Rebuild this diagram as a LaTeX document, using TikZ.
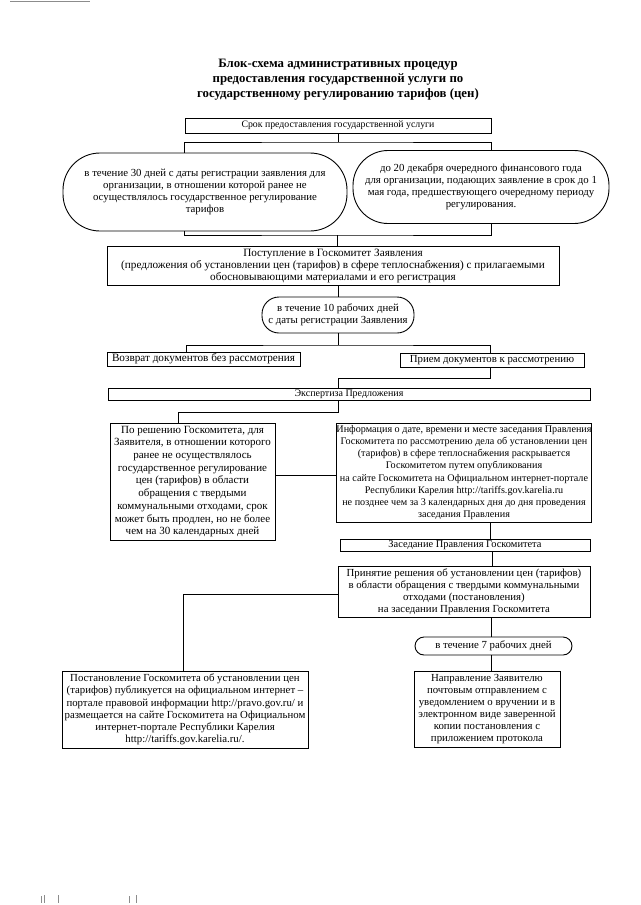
\documentclass[tikz,border=0pt]{standalone}
\usepackage{fontspec}
\setmainfont{Liberation Serif}
\usetikzlibrary{calc}
\tikzset{
  base/.style={draw=black, line width=0.9pt, align=center, inner sep=0pt,
    font=\fontsize{10.8}{12}\selectfont},
  box/.style={base, rectangle},
  oval/.style={base, rectangle},
  oneline/.style={text height=0.68em, text depth=0.2em},
  conn/.style={draw=black, line width=0.9pt},
  scanmark/.style={draw=black!45, line width=0.8pt},
}
\begin{document}
\begin{tikzpicture}[x=1pt,y=-1pt]
\useasboundingbox[fill=white] (0,0) rectangle (640,905);

% scan marks
\draw[scanmark] (10,1.5) -- (90,1.5);
\draw[scanmark] (41,896) -- (41,903) (44,895) -- (44,903) (58,895) -- (58,903)
  (129,896) -- (129,903) (136,895) -- (136,903);

\node[font=\bfseries\fontsize{12.8}{15}\selectfont, align=center] (title) at (338,79.5)
 {Блок-схема административных процедур\\
  предоставления государственной услуги по\\
  государственному регулированию тарифов (цен)};

\node[box, oneline, minimum width=306pt, minimum height=15pt,
  font=\fontsize{9.8}{11}\selectfont] (srok) at (338,125.5)
 {Срок предоставления государственной услуги};

\node[oval, rounded corners=37pt, minimum width=284pt, minimum height=78pt] (ovalL) at (205,192)
 {в течение 30 дней с даты регистрации заявления для\\
  организации, в отношении которой ранее не\\
  осуществлялось государственное регулирование\\
  тарифов};

\node[oval, rounded corners=35pt, minimum width=256pt, minimum height=73pt] (ovalR) at (481,187)
 {до 20 декабря очередного финансового года\\
  для организации, подающих заявление в срок до 1\\
  мая года, предшествующего очередному периоду\\
  регулирования.};

\node[box, minimum width=452pt, minimum height=39pt,
  font=\fontsize{11.2}{12}\selectfont] (post) at (333,265.5)
 {Поступление в Госкомитет Заявления\\
  (предложения об установлении цен (тарифов) в сфере теплоснабжения) с прилагаемыми\\
  обосновывающими материалами и его регистрация};

\node[oval, rounded corners=17pt, minimum width=152pt, minimum height=36pt] (oval10) at (338,315)
 {в течение 10 рабочих дней\\
  с даты регистрации Заявления};

\node[box, oneline, minimum width=193pt, minimum height=14pt,
  font=\fontsize{11.2}{12}\selectfont] (vozvrat) at (203.5,359)
 {Возврат документов без рассмотрения};

\node[box, oneline, minimum width=184pt, minimum height=14pt] (priem) at (492,360)
 {Прием документов к рассмотрению};

\node[box, oneline, minimum width=482pt, minimum height=12pt,
  font=\fontsize{10}{11}\selectfont] (ekspert) at (349,394)
 {Экспертиза Предложения};

\node[box, minimum width=165pt, minimum height=117pt,
  font=\fontsize{11}{12.7}\selectfont] (reshenie) at (192.5,481.5)
 {По решению Госкомитета, для\\
  Заявителя, в отношении которого\\
  ранее не осуществлялось\\
  государственное регулирование\\
  цен (тарифов) в области\\
  обращения с твердыми\\
  коммунальными отходами, срок\\
  может быть продлен, но не более\\
  чем на 30 календарных дней};

\node[box, minimum width=253pt, minimum height=99pt,
  font=\fontsize{10.15}{12.2}\selectfont] (info) at (464,472.5)
 {Информация о дате, времени и месте заседания Правления\\
  Госкомитета по рассмотрению дела об установлении цен\\
  (тарифов) в сфере теплоснабжения раскрывается\\
  Госкомитетом путем опубликования\\
  на сайте Госкомитета на Официальном интернет-портале\\
  Республики Карелия http://tariffs.gov.karelia.ru\\
  не позднее чем за 3 календарных дня до дня проведения\\
  заседания Правления};

\node[box, oneline, minimum width=250pt, minimum height=12pt,
  font=\fontsize{10.4}{11}\selectfont] (zased) at (465,545)
 {Заседание Правления Госкомитета};

\node[box, minimum width=252pt, minimum height=51pt] (prinyat) at (464,592)
 {Принятие решения об установлении цен (тарифов)\\
  в области обращения с твердыми коммунальными\\
  отходами (постановления)\\
  на заседании Правления Госкомитета};

\node[box, minimum width=246pt, minimum height=77pt,
  font=\fontsize{10.8}{12.2}\selectfont] (postanov) at (185,709.5)
 {Постановление Госкомитета об установлении цен\\
  (тарифов) публикуется на официальном интернет –\\
  портале правовой информации http://pravo.gov.ru/ и\\
  размещается на сайте Госкомитета на Официальном\\
  интернет-портале Республики Карелия\\
  http://tariffs.gov.karelia.ru/.};

\node[oval, oneline, rounded corners=9pt, minimum width=157pt, minimum height=18pt] (oval7) at (493.5,646)
 {в течение 7 рабочих дней};

\node[box, minimum width=146pt, minimum height=76pt] (naprav) at (487,709)
 {Направление Заявителю\\
  почтовым отправлением с\\
  уведомлением о вручении и в\\
  электронном виде заверенной\\
  копии постановления с\\
  приложением протокола};

% connectors
\coordinate (j1) at (337,142);
\draw[conn] (srok.south) -- (srok.south |- j1);
\draw[conn] (srok.west |- ovalL.north) |- (j1) -| (srok.east |- ovalR.north);

\coordinate (j2) at (337,235);
\draw[conn] (srok.west |- ovalL.south) |- (j2) -| (srok.east |- ovalR.south);
\draw[conn] (j2) -- (j2 |- post.north);

\draw[conn] (oval10.north |- post.south) -- (oval10.north);

\coordinate (j3) at (338,345);
\draw[conn] (oval10.south) -- (j3);
\draw[conn] (186,352 |- vozvrat.north) |- (j3) -| (490,353 |- priem.north);

\coordinate (j4) at (490,378);
\draw[conn] (j4 |- priem.south) -- (j4) -| (ekspert.north -| j3);

\coordinate (j5) at (338,412);
\draw[conn] (j5 |- ekspert.south) -- (j5) -| (reshenie.north -| 178,0);

\draw[conn] (reshenie.east |- 0,475) -- (info.west |- 0,475);

\draw[conn] (info.south -| j4) -- (zased.north -| j4);
\draw[conn] (zased.south -| 492,0) -- (prinyat.north -| 492,0);

\draw[conn] (prinyat.west |- 0,594) -| (postanov.north -| 183,0);

\draw[conn] (prinyat.south -| 491,0) -- (oval7.north -| 491,0);
\draw[conn] (oval7.south -| 491,0) -- (naprav.north -| 491,0);
\end{tikzpicture}
\end{document}
